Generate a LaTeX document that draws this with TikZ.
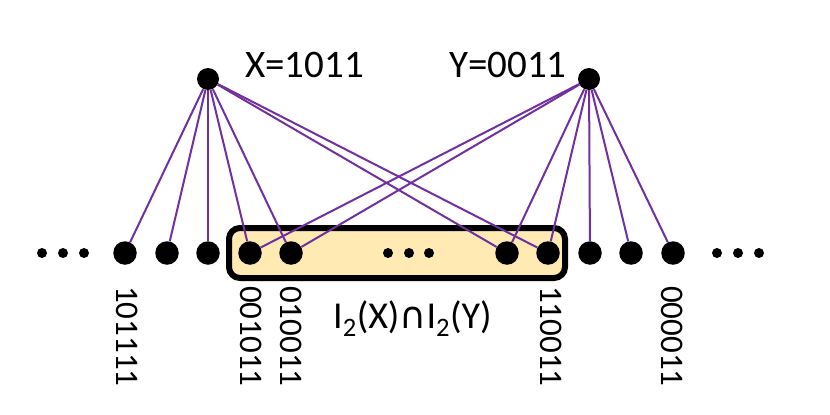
\documentclass[tikz,border=0pt]{standalone}
\usepackage{fontspec}
\setmainfont{Carlito}
\newfontfamily\dejavu{DejaVu Sans}
\definecolor{purp}{HTML}{7030A0}
\definecolor{boxfill}{HTML}{FFEAB4}
\begin{document}
\begin{tikzpicture}[x=1pt,y=-1pt,
  dot/.style={circle,fill=black,inner sep=0pt,minimum size=23.5pt},
  sdot/.style={circle,fill=black,inner sep=0pt,minimum size=10pt},
  edge/.style={draw=purp,line width=2pt},
  bits/.style={rotate=-90,anchor=west,inner sep=0pt,font=\fontsize{33}{33}\selectfont},
  toplabel/.style={anchor=base west,inner sep=0pt,font=\fontsize{39}{39}\selectfont}]
\useasboundingbox (0,0) rectangle (830,415);
% highlighted box
\draw[line width=6pt,fill=boxfill,rounded corners=11pt] (229,228) rectangle (565,278);
% top nodes
\node[dot,minimum size=22pt] (X) at (208,79) {};
\node[dot,minimum size=22pt] (Y) at (589,79) {};
\node[toplabel] (lx) at (245,77) {X=1011};
\node[toplabel] (ly) at (449,77) {Y=0011};
% bottom nodes
\foreach \i/\x in {1/125,2/167,3/208,4/250,5/291,6/507,7/548,8/590,9/631,10/673}
  \node[dot] (b\i) at (\x,253) {};
% ellipsis dots
\foreach \i/\x in {1/42,2/63,3/84,4/388,5/409,6/429,7/717,8/738,9/759}
  \node[sdot] (d\i) at (\x,253) {};
% edges
\foreach \i in {1,...,7} \draw[edge] (X) -- (b\i);
\foreach \i in {4,...,10} \draw[edge] (Y) -- (b\i);
% bit labels
\node[bits] (t1) at (127.5,286) {101111};
\node[bits] (t4) at (251,286) {001011};
\node[bits] (t5) at (291,286) {010011};
\node[bits] (t7) at (551,286) {110011};
\node[bits] (t10) at (672.5,286) {000011};
% intersection label
\node[toplabel,font=\fontsize{38}{38}\selectfont] (li) at (333,328) {I\textsubscript{2}(X){\dejavu\fontsize{37}{37}\selectfont ∩}I\textsubscript{2}(Y)};
\end{tikzpicture}
\end{document}
